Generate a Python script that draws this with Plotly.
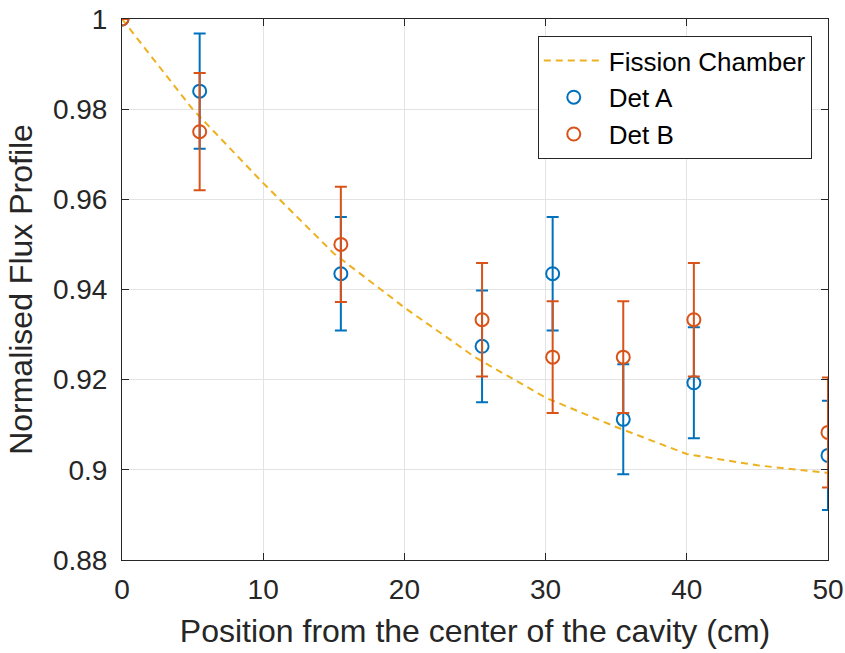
import plotly.graph_objects as go

# Fission chamber reference profile
fc_x = [0, 5, 10, 15, 20, 25, 30, 35, 40, 45, 50]
fc_y = [1.0, 0.980, 0.9636, 0.948, 0.936, 0.925, 0.916, 0.9095, 0.9035, 0.901, 0.8993]

# Detector positions (cm)
pos = [0, 5.5, 15.5, 25.5, 30.5, 35.5, 40.5, 50]

detA_y = [1.0, 0.984, 0.9435, 0.9274, 0.9435, 0.9112, 0.9193, 0.9032]
detA_err = [0.0, 0.0128, 0.0126, 0.0124, 0.0126, 0.0122, 0.0123, 0.0121]

detB_y = [1.0, 0.975, 0.950, 0.9333, 0.925, 0.925, 0.9333, 0.9083]
detB_err = [0.0, 0.0130, 0.0128, 0.0126, 0.0124, 0.0124, 0.0126, 0.0122]

xticks = [0, 10, 20, 30, 40, 50]
yticks = [0.88, 0.9, 0.92, 0.94, 0.96, 0.98, 1.0]
yticklabels = ["0.88", "0.9", "0.92", "0.94", "0.96", "0.98", "1"]

BLUE = "#0072BD"
ORANGE = "#D95319"
YELLOW = "#EDB120"
FONT = "Liberation Sans, Arial"

fig = go.Figure()
fig.add_trace(go.Scatter(
    x=fc_x, y=fc_y, mode="lines", name="Fission Chamber",
    line=dict(color=YELLOW, width=2, dash="7px,5px"),
))
fig.add_trace(go.Scatter(
    x=pos, y=detA_y, mode="markers", name="Det A",
    marker=dict(symbol="circle-open", size=13, color=BLUE, line=dict(width=2, color=BLUE)),
    error_y=dict(type="data", array=detA_err, visible=True, color=BLUE, thickness=2, width=6),
))
fig.add_trace(go.Scatter(
    x=pos, y=detB_y, mode="markers", name="Det B",
    marker=dict(symbol="circle-open", size=13, color=ORANGE, line=dict(width=2, color=ORANGE)),
    error_y=dict(type="data", array=detB_err, visible=True, color=ORANGE, thickness=2, width=6),
))

axis_common = dict(
    showline=True, linecolor="#262626", linewidth=1, mirror="ticks",
    ticks="inside", ticklen=7, tickcolor="#262626",
    showgrid=True, gridcolor="#e3e3e3", gridwidth=1, zeroline=False,
    tickfont=dict(family=FONT, size=28, color="#262626"),
    automargin=False,
)

fig.update_xaxes(
    range=[0, 50], tickvals=xticks, ticktext=[str(v) for v in xticks],
    ticklabelstandoff=4,
    title=dict(text="Position from the center of the cavity (cm)",
               font=dict(family=FONT, size=32, color="#262626"), standoff=16),
    **axis_common,
)
fig.update_yaxes(
    range=[0.88, 1.0], tickvals=yticks, ticktext=yticklabels,
    ticklabelstandoff=8,
    title=dict(text="Normalised Flux Profile",
               font=dict(family=FONT, size=32, color="#262626"), standoff=10),
    **axis_common,
)

fig.update_layout(
    width=845, height=653,
    margin=dict(l=122, r=17, t=19, b=93, autoexpand=False),
    paper_bgcolor="white", plot_bgcolor="white",
    showlegend=True,
    legend=dict(
        x=0.977, y=0.9686, xanchor="right", yanchor="top",
        bgcolor="white", bordercolor="#262626", borderwidth=1,
        font=dict(family=FONT, size=26, color="#000000"),
        itemwidth=60, tracegroupgap=0,
    ),
)

fig.write_html("out.html")
